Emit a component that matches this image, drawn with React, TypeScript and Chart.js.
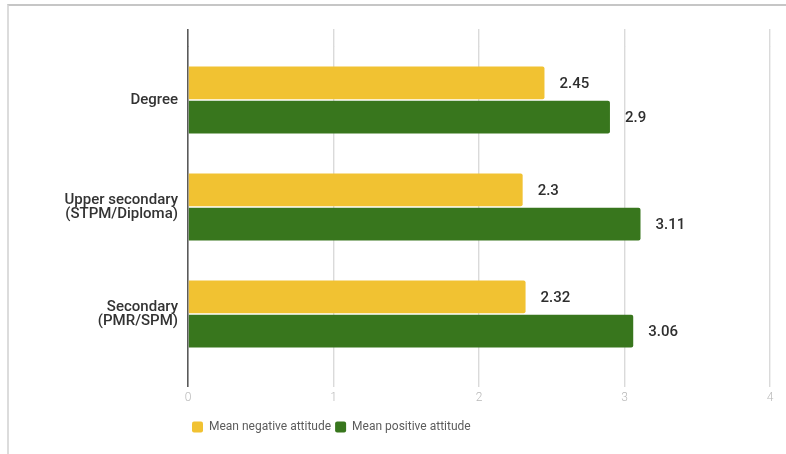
import React, { useEffect, useRef } from "react";
import { Chart, registerables } from "chart.js";

Chart.register(...registerables);

// Education level categories (y axis)
const categories: (string | string[])[] = [
  "Degree",
  ["Upper secondary", "(STPM/Diploma)"],
  ["Secondary", "(PMR/SPM)"],
];

// Mean attitude scores per education level
const negativeAttitude = [2.45, 2.3, 2.32];
const positiveAttitude = [2.9, 3.11, 3.06];

const seriesNames = ["Mean negative attitude", "Mean positive attitude"];
const seriesColors = ["#f1c232", "#38761d"];

// Value axis
const axisMin = 0;
const axisMax = 4;
const axisStep = 1;

const gridColor = (ctx: any) => (ctx.tick && ctx.tick.value === 0 ? "#5a5a5a" : "#dadada");
const gridWidth = (ctx: any) => (ctx.tick && ctx.tick.value === 0 ? 1.6 : 1.4);

// Writes each bar's value just past its end
const valueLabels = {
  id: "valueLabels",
  afterDatasetsDraw(chart: any) {
    const { ctx } = chart;
    ctx.save();
    ctx.font = "500 15px Roboto";
    ctx.fillStyle = "#2e2e2e";
    ctx.textAlign = "left";
    ctx.textBaseline = "middle";
    chart.data.datasets.forEach((ds: any, di: number) => {
      const meta = chart.getDatasetMeta(di);
      meta.data.forEach((bar: any, i: number) => {
        ctx.fillText(String(ds.data[i]), bar.x + 15, bar.y + 1);
      });
    });
    ctx.restore();
  },
};

export default function App() {
  const canvasRef = useRef<HTMLCanvasElement | null>(null);

  useEffect(() => {
    if (!canvasRef.current) return;
    const chart = new Chart(canvasRef.current, {
      type: "bar",
      data: {
        labels: categories,
        datasets: [
          {
            label: seriesNames[0],
            data: negativeAttitude,
            backgroundColor: seriesColors[0],
            borderWidth: 0,
            borderRadius: 2,
            borderSkipped: "start",
          },
          {
            label: seriesNames[1],
            data: positiveAttitude,
            backgroundColor: seriesColors[1],
            borderWidth: 0,
            borderRadius: 2,
            borderSkipped: "start",
          },
        ],
      },
      options: {
        indexAxis: "y",
        animation: false,
        responsive: false,
        maintainAspectRatio: false,
        categoryPercentage: 0.64,
        barPercentage: 0.95,
        layout: { padding: { top: 29, right: 16, bottom: 11, left: 0 } },
        scales: {
          x: {
            type: "linear",
            position: "bottom",
            min: axisMin,
            max: axisMax,
            ticks: {
              stepSize: axisStep,
              padding: 4,
              color: "#b8b8b8",
              font: { family: "Roboto", size: 12, weight: "300" },
            },
            grid: {
              color: gridColor,
              lineWidth: gridWidth,
              drawTicks: true,
              tickLength: 19.5,
            },
            border: { display: false },
            afterFit: (s: any) => {
              s.height = 49.5;
            },
          },
          x2: {
            type: "linear",
            position: "top",
            min: axisMin,
            max: axisMax,
            ticks: { stepSize: axisStep, display: false },
            grid: {
              color: gridColor,
              lineWidth: gridWidth,
              drawOnChartArea: false,
              drawTicks: true,
              tickLength: 17.5,
            },
            border: { display: false },
          },
          y: {
            type: "category",
            position: "left",
            offset: true,
            grid: { display: false, drawTicks: false },
            border: { display: false },
            ticks: {
              padding: 10,
              color: "#333333",
              font: { family: "Roboto", size: 15, weight: "500", lineHeight: 0.95 },
            },
            afterFit: (s: any) => {
              s.width = 188;
            },
          },
        },
        plugins: {
          legend: {
            position: "bottom",
            align: "start",
            fullSize: false,
            labels: {
              boxWidth: 11,
              boxHeight: 11,
              padding: 4,
              useBorderRadius: true,
              borderRadius: 2,
              color: "#5c5c5c",
              font: { family: "Roboto", size: 12 },
            },
          },
          tooltip: { enabled: false },
        },
      },
      plugins: [valueLabels],
    });
    return () => chart.destroy();
  }, []);

  return (
    <div
      style={{
        position: "fixed",
        left: 0,
        top: 0,
        width: 786,
        height: 454,
        background: "#ffffff",
        overflow: "hidden",
      }}
    >
      <div
        style={{
          position: "absolute",
          left: 7,
          top: 4,
          right: 0,
          bottom: 0,
          borderTop: "2px solid #c6c6c6",
          borderLeft: "2px solid #dcdcdc",
        }}
      />
      <canvas
        ref={canvasRef}
        width={786}
        height={454}
        style={{ position: "absolute", left: 0, top: 0, width: 786, height: 454 }}
      />
    </div>
  );
}
